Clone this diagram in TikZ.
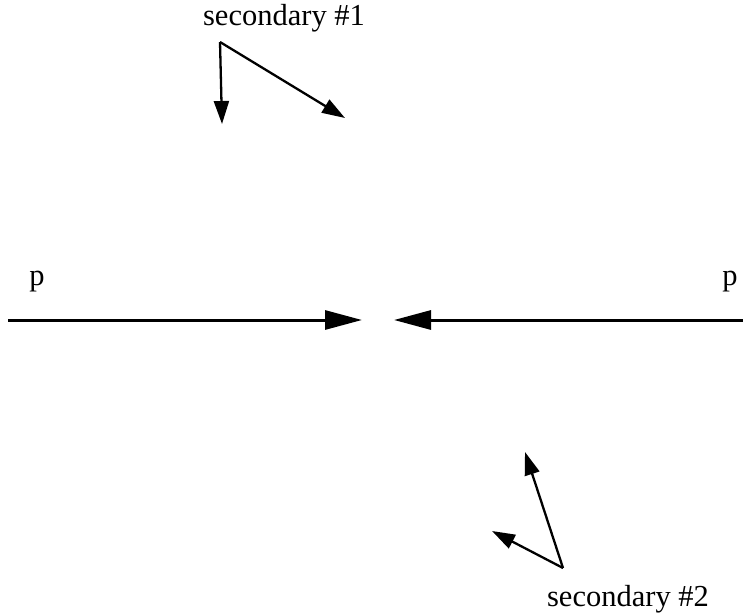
\documentclass[tikz,border=0pt]{standalone}
\usepackage{fontspec}
\setmainfont{Liberation Serif}
\usetikzlibrary{arrows.meta}
\begin{document}
\begin{tikzpicture}[x=1pt,y=-1pt,
  lbl/.style={anchor=base,inner sep=0pt,font=\fontsize{30.5}{36}\selectfont},
  beam/.style={line width=3pt,-{Triangle[length=37pt,width=19pt]}},
  sec/.style={line width=2.3pt,-{Triangle[length=23pt,width=15pt]}}]
\useasboundingbox (0,0) rectangle (743,613);
% beams
\coordinate (bl) at (8,320);
\coordinate (tl) at (362,320);
\coordinate (br) at (743,320);
\coordinate (tr) at (394,320);
\draw[beam] (bl) -- (tl);
\draw[beam] (br) -- (tr);
\node[lbl] (pl) at (37,285) {p};
\node[lbl] (pr) at (730,285) {p};
% secondary 1
\node[lbl] (s1) at (284,25) {secondary \#1};
\coordinate (v1) at (220,42);
\coordinate (a1) at (222,124);
\coordinate (b1) at (345,118);
\draw[sec] (v1) -- (a1);
\draw[sec] (v1) -- (b1);
% secondary 2
\node[lbl] (s2) at (628,606) {secondary \#2};
\coordinate (v2) at (563,568);
\coordinate (a2) at (525,452);
\coordinate (b2) at (492,531);
\draw[sec] (v2) -- (a2);
\draw[sec] (v2) -- (b2);
\end{tikzpicture}
\end{document}
